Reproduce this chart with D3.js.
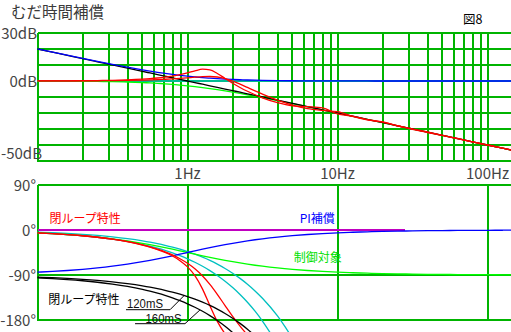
<!DOCTYPE html>
<html><head><meta charset="utf-8">
<script src="https://cdn.jsdelivr.net/npm/d3@7"></script>
<style>body{margin:0;background:#fff}svg{display:block}</style>
</head><body>
<svg id="c" width="511" height="332"></svg>
<script>
// ---- data ----
const freqs = [0.1,0.126,0.158,0.2,0.251,0.316,0.398,0.501,0.562,0.631,0.708,0.794,0.891,1,1.12,1.26,1.41,1.58,1.78,2,2.24,2.51,2.82,3.16,3.98,5.01,6.31,7.94,10,12.6,15.8,20,25.1,31.6,39.8,50.1,63.1,79.4,100,126,158];

// gain (dB)
const magPI = [20.04,18.06,16.14,14.15,12.27,10.41,8.64,6.97,6.20,5.45,4.76,4.12,3.54,3.01,2.55,2.12,1.77,1.46,1.19,0.97,0.79,0.64,0.51,0.41,0.27,0.17,0.11,0.07,0.04,0.03,0.02,0.01,0,0,0,0,0,0,0,0,0];
const magPlant = [-0.04,-0.07,-0.11,-0.17,-0.27,-0.41,-0.64,-0.97,-1.19,-1.46,-1.76,-2.12,-2.54,-3.01,-3.53,-4.12,-4.75,-5.44,-6.20,-6.99,-7.79,-8.63,-9.52,-10.41,-12.26,-14.17,-16.11,-18.06,-20.04,-22.04,-23.99,-26.03,-28.0,-30.0,-32.0,-34.0,-36.0,-38.0,-40.0,-42.0,-44.0];
const magOpen = [20,17.99,16.03,13.98,12.01,10.01,8.0,6.0,5.01,4.0,3.0,2.0,1.0,0,-0.98,-2.01,-2.98,-3.97,-5.01,-6.02,-7.0,-7.99,-9.0,-9.99,-12.0,-14.0,-16.0,-18.0,-20.0,-22.01,-23.97,-26.02,-27.99,-29.99,-32.0,-34.0,-36.0,-38.0,-40.0,-42.01,-43.97];
const magDead = [0,0,0,0,0,0,0,0,0,0,0,0,0,0,0,0,0,0,0,0,0,0,0,0,0,0,0,0,0,0,0,0,0,0,0,0,0,0,0,0,0];
const magClosed120 = [0.02,0.04,0.06,0.09,0.14,0.22,0.35,0.55,0.69,0.86,1.08,1.33,1.64,2.00,2.37,2.70,2.80,2.51,1.54,-0.03,-1.96,-4.04,-6.19,-8.22,-11.97,-15.06,-17.28,-18.37,-19.14,-22.09,-24.31,-25.77,-27.97,-30.26,-32.21,-33.99,-36.06,-38.02,-40.0,-41.96,-43.99];
const magClosed160 = [0.04,0.07,0.11,0.18,0.28,0.45,0.71,1.15,1.46,1.87,2.39,3.07,3.94,5.07,6.33,7.37,6.96,4.72,1.60,-1.40,-4.04,-6.42,-8.61,-10.50,-13.59,-15.51,-16.03,-16.84,-20.52,-21.97,-24.09,-25.60,-27.97,-29.90,-31.84,-33.98,-35.92,-38.10,-40.0,-41.95,-43.92];

// phase (deg)
const phPI = [-84.29,-82.82,-81.02,-78.69,-75.91,-72.46,-68.30,-63.39,-60.66,-57.75,-54.70,-51.55,-48.30,-45,-41.76,-38.44,-35.35,-32.33,-29.33,-26.57,-24.06,-21.72,-19.53,-17.56,-14.10,-11.29,-9.0,-7.18,-5.71,-4.54,-3.62,-2.86,-2.28,-1.81,-1.44,-1.14,-0.91,-0.72,-0.57,-0.45,-0.36];
const phPlant = [-5.71,-7.18,-8.98,-11.31,-14.09,-17.54,-21.70,-26.61,-29.34,-32.25,-35.30,-38.45,-41.70,-45,-48.24,-51.56,-54.65,-57.67,-60.67,-63.43,-65.94,-68.28,-70.47,-72.44,-75.90,-78.71,-81.0,-82.82,-84.29,-85.46,-86.38,-87.14,-87.72,-88.19,-88.56,-88.86,-89.09,-89.28,-89.43,-89.55,-89.64];
const phOpen120 = [-94.32,-95.44,-96.83,-98.64,-100.84,-103.65,-107.19,-111.64,-114.28,-117.26,-120.59,-124.30,-128.49,-133.2,-138.38,-144.43,-150.91,-158.26,-166.90,-176.4,-186.77,-198.43,-211.82];
const phOpen160 = [-95.76,-97.26,-99.10,-101.52,-104.46,-108.20,-112.92,-118.86,-122.37,-126.35,-130.78,-135.73,-141.32,-147.6,-154.51,-162.58,-171.22,-181.01,-192.53,-205.2,-219.02];
const phDead120 = [-4.32,-5.44,-6.83,-8.64,-10.84,-13.65,-17.19,-21.64,-24.28,-27.26,-30.59,-34.30,-38.49,-43.2,-48.38,-54.43,-60.91,-68.26,-76.90,-86.4,-96.77,-108.43,-121.82,-136.51,-171.94,-216.4];
const phDead160 = [-5.76,-7.26,-9.10,-11.52,-14.46,-18.20,-22.92,-28.86,-32.37,-36.35,-40.78,-45.73,-51.32,-57.6,-64.51,-72.58,-81.22,-91.01,-102.53,-115.2,-129.02,-144.58,-162.43,-182.02,-229.25];
const phClosed120 = [-5.74,-7.23,-9.09,-11.52,-14.50,-18.36,-23.31,-29.74,-33.68,-38.27,-43.62,-49.89,-57.43,-66.6,-77.67,-91.96,-108.7,-128.6,-151.19,-172.8,-192.16,-209.93,-226.7];
const phClosed160 = [-5.74,-7.24,-9.09,-11.54,-14.53,-18.42,-23.45,-30.06,-34.17,-39.07,-44.92,-52.10,-61.32,-73.8,-91.28,-118.2,-151.26,-182.75,-207.6,-226.45];

const magZeroRefEnd = 28;            // magenta 0° line ends near 28 Hz
const dbTicks = [30,20,10,0,-10,-20,-30,-40,-50];
const dbLabels = [[30,"30dB"],[0,"0dB"],[-50,"-50dB"]];
const phGrid = [90,-90,-180];
const phLabels = [[90,"90°"],[0,"0°"],[-90,"-90°"],[-180,"-180°"]];
const phDecades = [0.1,1,10,100];
const hzLabels = [[1,"1Hz"],[10,"10Hz"],[100,"100Hz"]];

// annotation anchors in data units: [text, textFreq, textPhase, lineStartFreq, lineEndFreq, linePhase, targetFreq, targetPhase]
const notes = [
  ["120mS", 0.395, -156, 0.389, 0.765, -159.4, 0.95, -131],
  ["160mS", 0.525, -186, 0.447, 0.962, -187.4, 1.21, -160]
];

// ---- drawing ----
const W = 511, H = 332;
const svg = d3.select("#c");
const x = d3.scaleLog().domain([0.1,100]).range([37.5,487.5]);
const yMag = d3.scaleLinear().domain([30,-50]).range([33,161]);
const yPh = d3.scaleLinear().domain([90,-180]).range([185,320]);
const GRID = "#00b400";
const FONT = "'Noto Sans CJK JP', 'Noto Sans', sans-serif";

const defs = svg.append("defs");
defs.append("clipPath").attr("id","clipTop").append("rect").attr("x",37).attr("y",33).attr("width",W-37).attr("height",161-33);
defs.append("clipPath").attr("id","clipBot").append("rect").attr("x",37).attr("y",185).attr("width",W-37).attr("height",H-185);

// top grid
const gTop = svg.append("g").attr("shape-rendering","crispEdges");
gTop.selectAll("line.v").data(x.ticks()).join("line")
  .attr("x1",d=>Math.round(x(d))).attr("x2",d=>Math.round(x(d)))
  .attr("y1",yMag(30)).attr("y2",yMag(-50)+1)
  .attr("stroke",GRID).attr("stroke-width",2);
gTop.selectAll("line.h").data(dbTicks).join("line")
  .attr("x1",Math.round(x(0.1))).attr("x2",W)
  .attr("y1",d=>yMag(d)).attr("y2",d=>yMag(d))
  .attr("stroke",GRID).attr("stroke-width",2);

// bottom grid
const gBot = svg.append("g").attr("shape-rendering","crispEdges");
gBot.selectAll("line.v").data(phDecades).join("line")
  .attr("x1",d=>Math.round(x(d))).attr("x2",d=>Math.round(x(d)))
  .attr("y1",yPh(90)).attr("y2",yPh(-180)+1)
  .attr("stroke",GRID).attr("stroke-width",2);
gBot.selectAll("line.h").data(phGrid).join("line")
  .attr("x1",Math.round(x(0.1))).attr("x2",W)
  .attr("y1",d=>yPh(d)).attr("y2",d=>yPh(d))
  .attr("stroke",GRID).attr("stroke-width",2);
gBot.append("line")
  .attr("x1",Math.round(x(0.1))).attr("x2",x(magZeroRefEnd))
  .attr("y1",yPh(0)).attr("y2",yPh(0))
  .attr("stroke","#c000c0").attr("stroke-width",2);

function pts(vals){ return vals.map((v,i)=>[freqs[i], v]); }
function drawCurves(g, yS, list){
  const line = d3.line().x(d=>x(d[0])).y(d=>yS(d[1])).curve(d3.curveMonotoneX);
  list.forEach(([vals,color])=>{
    g.append("path").attr("d",line(pts(vals))).attr("fill","none")
      .attr("stroke",color).attr("stroke-width",1.3).attr("stroke-linejoin","round");
  });
}
const cTop = svg.append("g").attr("clip-path","url(#clipTop)");
drawCurves(cTop, yMag, [
  [magDead,"#00c0c0"],
  [magPlant,"#00ff00"],
  [magOpen,"#000000"],
  [magPI,"#0000ff"],
  [magClosed160,"#ff0000"],
  [magClosed120,"#ff0000"]
]);
const cBot = svg.append("g").attr("clip-path","url(#clipBot)");
drawCurves(cBot, yPh, [
  [phDead120,"#00c0c0"],
  [phDead160,"#00c0c0"],
  [phPlant,"#00ff00"],
  [phPI,"#0000ff"],
  [phClosed120,"#ff0000"],
  [phClosed160,"#ff0000"],
  [phOpen120,"#000000"],
  [phOpen160,"#000000"]
]);

// axis labels
const tx = svg.append("g").attr("font-family",FONT).attr("fill","#444").attr("font-size",15);
tx.selectAll("text.db").data(dbLabels).join("text")
  .attr("x",d=>d[0]===-50?42:37).attr("text-anchor","end")
  .attr("y",d=>Math.min(yMag(d[0]),153)+5.5).text(d=>d[1]);
tx.selectAll("text.ph").data(phLabels).join("text")
  .attr("x",36).attr("text-anchor","end")
  .attr("y",d=>yPh(d[0])+5.5).text(d=>d[1]);
tx.selectAll("text.hz").data(hzLabels).join("text")
  .attr("x",d=>x(d[0])).attr("text-anchor","middle")
  .attr("y",179).text(d=>d[1]);

// title
svg.append("text").attr("x",11).attr("y",17.5).attr("font-family",FONT).attr("font-size",15.5)
  .attr("fill","#3a3a3a").text("むだ時間補償");
svg.append("text").attr("x",463).attr("y",23.5).attr("font-family",FONT).attr("font-size",12.5)
  .attr("fill","#000").text("図8");

// series labels
const lbl = svg.append("g").attr("font-family",FONT).attr("font-size",12);
lbl.append("text").attr("x",x(0.12)).attr("y",yPh(14)).attr("fill","#ff0000").text("閉ループ特性");
lbl.append("text").attr("x",x(5.6)).attr("y",yPh(14)).attr("fill","#0000ff").text("PI補償");
lbl.append("text").attr("x",x(5.1)).attr("y",yPh(-63.5)).attr("fill","#00e000").text("制御対象");
lbl.append("text").attr("x",x(0.118)).attr("y",yPh(-147)).attr("fill","#000").text("閉ループ特性");

// annotations
const an = svg.append("g");
notes.forEach(n=>{
  an.append("text").attr("x",x(n[1])).attr("y",yPh(n[2])).attr("font-family","'Liberation Sans', Arial, sans-serif")
    .attr("font-size",13).attr("fill","#111")
    .attr("textLength",36).attr("lengthAdjust","spacingAndGlyphs").text(n[0]);
  an.append("polyline").attr("fill","none").attr("stroke","#000").attr("stroke-width",1)
    .attr("points",[[x(n[3]),yPh(n[5])],[x(n[4]),yPh(n[5])],[x(n[6]),yPh(n[7])]].map(p=>p.join(",")).join(" "));
});
</script>
</body></html>
